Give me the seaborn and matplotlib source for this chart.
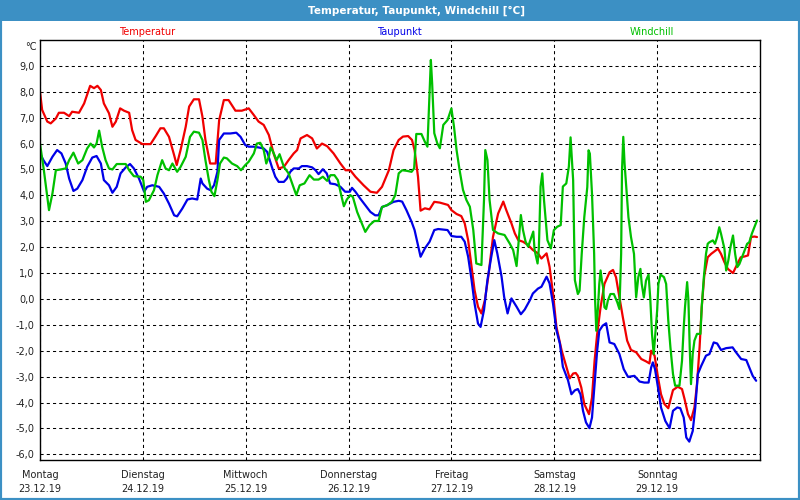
import matplotlib
matplotlib.use("Agg")
import pandas as pd
import matplotlib.pyplot as plt
import seaborn as sns
from matplotlib.patches import Rectangle
from matplotlib.ticker import FuncFormatter

# Week shown on the chart
start_day = "2019-12-23"
day_names = ["Montag", "Dienstag", "Mittwoch", "Donnerstag", "Freitag", "Samstag", "Sonntag"]
day_dates = ["23.12.19", "24.12.19", "25.12.19", "26.12.19", "27.12.19", "28.12.19", "29.12.19"]

# Temperatur: hours since Monday 00:00 and values in °C
temp_hours = [0, 0.5, 1.7, 2.5, 3.7, 4.4, 5.6, 6.8, 7.5, 9.1, 10.3, 11.7, 12.6, 13.4, 14.2, 14.9,
              16.1, 16.9, 17.7, 18.7, 19.6, 20.8, 21.5, 22.3, 23.9, 25.8, 27.0, 28.1, 28.9, 30.1,
              31.3, 31.9, 32.8, 34.0, 34.8, 35.9, 37.1, 37.9, 38.6, 39.7, 41.0, 41.8, 42.9, 44.0,
              45.6, 47.1, 48.7, 49.9, 51.0, 52.2, 53.4, 54.5, 55.7, 56.9, 58.0, 59.2, 60.0, 60.8,
              62.3, 63.5, 64.6, 65.8, 67.0, 68.5, 70.1, 71.3, 72.4, 73.6, 75.5, 77.1, 78.6, 79.8,
              81.4, 82.5, 83.7, 84.7, 85.9, 86.8, 87.4, 88.2, 88.8, 89.8, 90.9, 92.0, 93.3, 95.2,
              96.0, 97.2, 98.3, 99.1, 99.9, 100.7, 101.4, 102.2, 103.0, 103.8, 104.6, 105.7, 106.9,
              108.1, 108.8, 110.0, 110.8, 111.6, 112.7, 113.9, 115.0, 116.2, 117.0, 118.2, 118.9,
              119.7, 120.5, 121.7, 122.8, 123.6, 124.4, 125.0, 125.5, 126.3, 127.0, 128.1, 128.8,
              129.4, 130.0, 130.8, 131.7, 132.9, 133.7, 134.4, 135.2, 136.0, 137.0, 137.9, 139.1,
              140.3, 141.4, 142.2, 142.6, 143.4, 144.2, 144.9, 145.7, 146.6, 147.7, 148.8, 149.8,
              150.4, 151.2, 151.9, 152.7, 153.3, 153.9, 154.4, 155.0, 155.8, 156.6, 157.5, 158.2,
              158.9, 159.7, 160.5, 161.7, 162.7, 163.5, 164.4, 165.2, 165.9, 166.7, 167.3]
temp_values = [8.0, 7.3, 6.85, 6.78, 6.97, 7.19, 7.19, 7.06, 7.23, 7.19, 7.55, 8.23, 8.14, 8.23, 8.07, 7.55,
               7.17, 6.65, 6.85, 7.36, 7.27, 7.19, 6.52, 6.14, 5.98, 5.98, 6.29, 6.59, 6.59, 6.26,
               5.55, 5.17, 5.75, 6.65, 7.43, 7.71, 7.71, 7.04, 6.14, 5.23, 5.23, 6.9, 7.68, 7.68,
               7.27, 7.27, 7.36, 7.1, 6.85, 6.72, 6.33, 5.62, 5.04, 5.1, 5.36, 5.62, 5.75, 6.2,
               6.33, 6.2, 5.81, 6.0, 5.9, 5.62, 5.23, 4.97, 4.97, 4.72, 4.39, 4.14, 4.1, 4.33,
               4.97, 5.75, 6.14, 6.27, 6.29, 6.14, 5.75, 4.72, 3.41, 3.5, 3.46, 3.75, 3.72, 3.63,
               3.43, 3.28, 3.2, 2.92, 2.27, 1.24, 0.34, -0.3, -0.56, -0.05, 0.86, 2.4, 3.3,
               3.76, 3.43, 2.92, 2.53, 2.27, 2.21, 2.08, 1.89, 1.76, 1.56, 1.76, 1.24,
               0.21, -1.08, -1.98, -2.62, -3.07, -2.88, -2.86, -2.97, -3.42, -4.06, -4.45, -3.81,
               -2.39, -1.36, -0.32, 0.58, 1.03, 1.12, 0.84, 0.06, -0.71, -1.61, -1.97, -2.06,
               -2.32, -2.41, -2.49, -2.0, -2.19, -3.03, -3.68, -4.06, -4.22, -3.52, -3.39, -3.48,
               -3.87, -4.45, -4.68, -4.19, -3.29, -1.87, -0.32, 0.9, 1.61, 1.74, 1.85, 1.94,
               1.74, 1.42, 1.16, 1.0, 1.35, 1.61, 1.64, 1.68, 2.39, 2.41, 2.39]

# Taupunkt
dew_hours = [0, 0.8, 1.7, 2.9, 4.0, 5.0, 6.0, 6.8, 7.8, 8.7, 9.9, 11.0, 12.2, 13.2, 14.2, 14.9, 16.1,
             16.9, 17.9, 18.8, 20.0, 21.0, 21.9, 23.1, 24.3, 25.0, 26.2, 27.8, 28.9, 30.1, 31.3,
             32.0, 33.2, 34.4, 35.5, 36.7, 37.5, 37.9, 39.0, 39.8, 40.6, 41.4, 41.8, 42.9, 44.4,
             45.8, 46.8, 47.9, 48.7, 49.9, 51.0, 52.2, 53.0, 54.1, 54.9, 55.7, 56.9, 57.6, 58.4,
             59.2, 60.4, 61.1, 62.3, 63.5, 64.3, 65.0, 66.0, 66.9, 67.7, 68.9, 70.1, 71.2, 72.3,
             72.8, 73.6, 74.7, 75.9, 77.1, 78.2, 79.0, 79.8, 81.0, 82.5, 83.7, 84.5, 85.5, 86.7,
             87.4, 88.2, 88.8, 89.8, 90.9, 92.0, 92.9, 95.1, 96.0, 97.2, 98.3, 99.1, 99.9, 100.7,
             101.4, 102.2, 102.8, 103.6, 104.4, 105.3, 106.0, 106.7, 107.7, 108.3, 109.1, 110.0,
             111.2, 112.2, 113.1, 114.3, 115.0, 116.2, 117.0, 118.2, 118.9, 119.7, 120.5, 121.3,
             122.0, 123.2, 124.0, 124.8, 125.5, 126.1, 126.7, 127.4, 128.2, 128.8, 129.4, 130.0,
             130.5, 131.3, 132.1, 132.9, 134.0, 135.2, 136.2, 137.2, 138.7, 139.9, 141.0, 142.0,
             142.6, 143.0, 143.5, 144.2, 144.9, 145.9, 146.9, 147.7, 148.7, 149.4, 150.2, 150.8,
             151.5, 152.3, 152.9, 153.5, 154.3, 155.4, 156.2, 157.2, 158.0, 158.9, 160.1, 161.6,
             162.4, 163.6, 164.8, 165.5, 166.3, 167.1]
dew_values = [5.62, 5.36, 5.13, 5.49, 5.75, 5.62, 5.23, 4.65, 4.17, 4.26, 4.59, 5.1, 5.46, 5.52, 5.23, 4.59, 4.39,
              4.1, 4.33, 4.85, 5.08, 5.21, 5.04, 4.65, 4.14, 4.33, 4.39, 4.33, 4.07, 3.68, 3.23,
              3.19, 3.49, 3.84, 3.88, 3.84, 4.65, 4.46, 4.26, 4.2, 4.39, 4.91, 6.14, 6.39, 6.39,
              6.42, 6.26, 5.94, 5.88, 5.88, 5.85, 5.81, 5.68, 5.1, 4.72, 4.52, 4.52, 4.65, 4.91,
              5.04, 5.04, 5.13, 5.13, 5.08, 4.97, 4.82, 5.01, 4.85, 4.46, 4.43, 4.33, 4.14, 4.14,
              4.29, 4.14, 3.88, 3.62, 3.36, 3.23, 3.23, 3.55, 3.62, 3.75, 3.79, 3.76, 3.43, 2.98,
              2.66, 2.08, 1.63, 1.95, 2.21, 2.66, 2.7, 2.66, 2.43, 2.4, 2.4, 2.21, 1.63, 0.73,
              -0.18, -0.95, -1.08, -0.43, 0.73, 1.63, 2.27, 1.76, 0.86, 0.08, -0.56, 0.02,
              -0.3, -0.59, -0.41, -0.05, 0.21, 0.4, 0.47, 0.86, 0.6, -0.18, -1.21, -1.72,
              -2.62, -3.14, -3.68, -3.53, -3.48, -3.68, -4.32, -4.77, -4.99, -4.58, -3.29, -2.0,
              -1.23, -1.03, -0.94, -1.68, -1.74, -2.13, -2.71, -3.01, -2.97, -3.19, -3.23, -3.23,
              -2.65, -2.45, -2.71, -3.42, -4.19, -4.71, -4.99, -4.32, -4.19, -4.22, -4.58, -5.35,
              -5.51, -5.1, -4.19, -2.9, -2.58, -2.19, -2.13, -1.68, -1.72, -1.97, -1.9, -1.87,
              -2.06, -2.32, -2.36, -2.65, -2.97, -3.16]

# Windchill
chill_hours = [0, 0.9, 1.6, 2.1, 2.9, 3.7, 4.8, 6.0, 6.8, 7.8, 8.9, 9.9, 11.0, 11.8, 12.6, 13.2, 13.8,
               14.5, 15.3, 16.1, 16.9, 17.9, 19.2, 20.0, 20.8, 21.9, 23.5, 24.1, 24.7, 25.4, 26.6,
               27.4, 28.5, 29.3, 30.1, 30.9, 32.0, 32.8, 34.0, 35.0, 35.9, 37.1, 37.9, 38.6, 39.4,
               40.0, 40.7, 41.4, 42.0, 42.9, 43.6, 44.8, 46.0, 46.9, 47.9, 48.7, 49.9, 50.6, 51.4,
               52.2, 52.8, 53.4, 53.8, 54.4, 55.2, 55.9, 56.9, 58.0, 59.0, 59.8, 60.6, 61.7, 62.9,
               63.9, 65.0, 66.0, 67.0, 67.8, 68.7, 69.5, 70.2, 70.9, 71.6, 72.4, 73.0, 74.0, 75.1,
               75.9, 76.9, 78.0, 79.0, 79.8, 81.0, 82.1, 82.9, 83.7, 84.5, 85.5, 86.7, 87.3, 87.8,
               89.0, 89.8, 90.4, 90.9, 91.2, 91.5, 92.0, 92.7, 93.3, 94.1, 95.1, 96.0, 96.6, 97.2,
               97.9, 98.7, 99.5, 100.3, 101.1, 101.8, 103.0, 103.6, 103.9, 104.4, 104.9, 105.7,
               106.9, 108.4, 109.6, 110.4, 111.2, 111.7, 112.2, 112.7, 113.3, 113.9, 114.7, 115.1,
               115.4, 116.1, 116.4, 116.8, 117.2, 117.6, 118.4, 119.2, 119.9, 120.7, 121.5, 122.0,
               122.8, 123.4, 123.8, 124.4, 124.8, 125.5, 125.9, 126.4, 127.0, 127.7, 128.0, 128.3,
               128.8, 129.3, 129.5, 129.8, 130.2, 130.5, 130.8, 131.1, 131.4, 131.7, 132.1, 132.5,
               133.1, 133.9, 134.7, 135.2, 135.6, 135.8, 136.1, 136.4, 136.8, 137.3, 137.9, 138.6,
               139.1, 139.6, 140.1, 140.4, 140.9, 141.4, 142.0, 142.4, 142.8, 143.2, 143.5, 144.0,
               144.3, 144.8, 145.6, 146.1, 146.6, 147.1, 147.7, 148.2, 149.2, 149.8, 150.2, 150.5,
               151.0, 151.3, 151.6, 151.9, 152.3, 152.7, 153.3, 154.1, 154.4, 154.9, 155.4, 155.8,
               156.2, 157.0, 157.5, 158.0, 158.5, 158.9, 159.7, 160.1, 160.6, 161.1, 161.7, 162.2,
               162.7, 163.2, 163.8, 164.4, 165.0, 165.5, 166.1, 166.7, 167.3]
chill_values = [6.0, 4.97, 4.07, 3.43, 4.07, 4.97, 5.0, 5.04, 5.36, 5.65, 5.23, 5.36, 5.81, 6.0, 5.85, 6.0, 6.5,
                5.88, 5.36, 5.04, 5.0, 5.21, 5.21, 5.21, 4.97, 4.74, 4.72, 4.59, 3.75, 3.81, 4.2,
                4.78, 5.36, 5.04, 4.97, 5.23, 4.91, 5.1, 5.49, 6.26, 6.46, 6.42, 6.14, 5.36, 4.59,
                4.14, 3.97, 4.59, 5.23, 5.46, 5.43, 5.23, 5.13, 4.97, 5.17, 5.3, 5.62, 6.0, 6.03,
                5.75, 5.23, 5.49, 5.85, 5.68, 5.36, 5.59, 5.1, 4.85, 4.39, 4.01, 4.39, 4.46, 4.78,
                4.61, 4.61, 4.72, 4.56, 4.78, 4.78, 4.59, 4.07, 3.58, 3.84, 4.01, 3.94, 3.36, 2.91,
                2.59, 2.85, 3.01, 3.01, 3.55, 3.62, 3.75, 4.01, 4.85, 4.97, 4.95, 4.91, 5.04, 6.37,
                6.37, 6.07, 5.88, 7.94, 9.23, 8.33, 6.4, 6.01, 5.82, 6.72, 6.91, 7.36, 6.65, 5.75,
                4.98, 4.21, 3.82, 3.56, 2.66, 1.37, 1.31, 3.82, 5.75, 5.37, 3.82, 2.66,
                2.53, 2.47, 2.14, 1.89, 1.27, 2.27, 3.24, 2.66, 2.21, 2.02, 2.4, 2.6,
                1.89, 1.37, 1.95, 4.34, 4.85, 3.82, 2.27, 1.95, 2.66, 2.79, 2.85, 4.34,
                4.46, 5.11, 6.24, 4.59, 0.73, 0.19, 0.32, 1.74, 3.16, 4.32, 5.74, 5.61,
                4.06, 1.74, 0.06, -1.23, -0.32, 0.58, 1.1, 0.71, 0.45, -0.32, -0.39, -0.06,
                0.19, 0.19, -0.13, -0.39, 1.74, 4.97, 6.26, 5.23, 4.32, 3.16, 2.39, 1.74,
                0.06, 0.84, 1.16, 0.58, 0.06, 0.71, 0.94, 0.0, -1.35, -2.13, -1.48, -0.45,
                0.58, 0.94, 0.84, 0.58, -0.84, -1.87, -2.9, -3.35, -3.35, -2.39, -1.1, -0.32,
                0.65, -0.06, -1.87, -3.29, -2.13, -1.61, -1.35, -1.35, -0.32, 0.84, 1.74, 2.13,
                2.19, 2.26, 2.13, 2.39, 2.77, 2.52, 1.94, 1.1, 1.48, 2.0, 2.45, 1.74,
                1.23, 1.35, 1.61, 1.87, 2.13, 2.19, 2.52, 2.77, 3.03]

series_names = ["Temperatur", "Taupunkt", "Windchill"]
series_colors = ["#f00000", "#0000e8", "#00c000"]
frame_blue = "#3c90c4"

# Build one long table for seaborn
start = pd.Timestamp(start_day)
parts = []
for name, hours, values in zip(series_names,
                               [temp_hours, dew_hours, chill_hours],
                               [temp_values, dew_values, chill_values]):
    parts.append(pd.DataFrame({
        "time": start + pd.to_timedelta(hours, unit="h"),
        "value": values,
        "series": name,
    }))
df = pd.concat(parts, ignore_index=True)

sns.set_style("white")
plt.rcParams["font.family"] = ["DejaVu Sans"]
plt.rcParams["font.size"] = 7

fig = plt.figure(figsize=(8, 5), dpi=100, facecolor="white")
ax = fig.add_axes([0.05, 0.08, 0.90, 0.84])

sns.lineplot(data=df, x="time", y="value", hue="series", hue_order=series_names,
             palette=dict(zip(series_names, series_colors)), estimator=None,
             sort=False, legend=False, linewidth=1.6, ax=ax)

# Axes
day_starts = pd.to_datetime(day_dates, format="%d.%m.%y")
ax.set_xlim(start, start + pd.Timedelta(days=7))
ax.set_xticks(day_starts)
ax.set_xticklabels([f"{n}\n{d}" for n, d in zip(day_names, day_dates)], linespacing=1.55)
ax.set_ylim(-6.22, 10.0)
ax.set_yticks(range(-6, 10))
ax.yaxis.set_major_formatter(FuncFormatter(lambda v, p: f"{v:.1f}".replace(".", ",")))
ax.tick_params(axis="both", length=0, colors="#222222", labelsize=7)
ax.tick_params(axis="x", pad=7)
ax.tick_params(axis="y", pad=4)
ax.set_xlabel("")
ax.set_ylabel("")
ax.grid(True, color="black", linestyle=(0, (3, 3)), linewidth=0.75)
for s in ax.spines.values():
    s.set_color("black")
    s.set_linewidth(1.0)
ax.text(-0.005, 0.995, "°C", transform=ax.transAxes, ha="right", va="top", fontsize=7, color="#222222")

# Window frame and title bar
fig.add_artist(Rectangle((0, 1 - 21 / 500), 1, 21 / 500, transform=fig.transFigure,
                         facecolor=frame_blue, edgecolor="none", zorder=0))
fig.add_artist(Rectangle((0, 0), 1, 1, transform=fig.transFigure, fill=False,
                         edgecolor=frame_blue, linewidth=3, zorder=5))
fig.text(0.521, 1 - 10.5 / 500, "Temperatur, Taupunkt, Windchill [°C]", color="white",
         ha="center", va="center", fontsize=7.5, fontweight="bold",
         family=["DejaVu Sans Condensed", "DejaVu Sans"])

# Coloured series names above the plot
for name, color, xpos in zip(series_names, series_colors, [147, 399, 652]):
    fig.text(xpos / 800, 1 - 32 / 500, name, color=color, ha="center", va="center", fontsize=7)

fig.savefig("out.png", dpi=100, facecolor="white")
plt.close(fig)
